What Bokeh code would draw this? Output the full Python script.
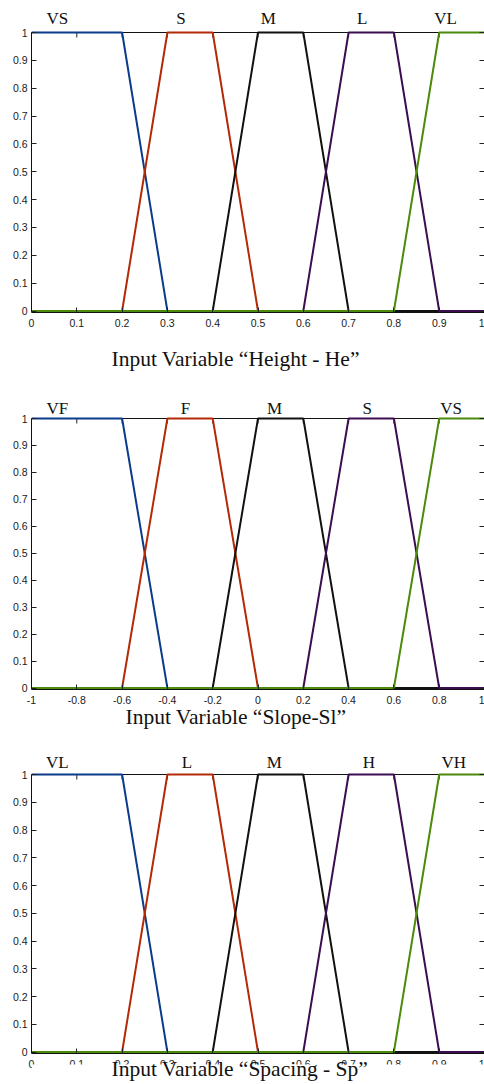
from bokeh.plotting import figure
from bokeh.models import LinearAxis, FixedTicker, CustomJSTickFormatter, Range1d, Span
from bokeh.core.properties import value
from bokeh.layouts import column
from bokeh.embed import file_html
from bokeh.resources import INLINE

# ---------------- data ----------------
COLORS = ["#0b3b8c", "#b42a06", "#111111", "#3c0d50", "#4b8a0a"]

HE_TERMS = ["VS", "S", "M", "L", "VL"]
HE_PARAMS = [[0.0, 0.0, 0.2, 0.3], [0.2, 0.3, 0.4, 0.5], [0.4, 0.5, 0.6, 0.7],
             [0.6, 0.7, 0.8, 0.9], [0.8, 0.9, 1.0, 1.0]]
HE_DOMAIN = [0.0, 1.0]
HE_TICKS = [0, 0.1, 0.2, 0.3, 0.4, 0.5, 0.6, 0.7, 0.8, 0.9, 1]
HE_LABEL_X = [0.057, 0.33, 0.523, 0.73, 0.914]
HE_TITLE = "Input Variable \u201cHeight - He\u201d"

SL_TERMS = ["VF", "F", "M", "S", "VS"]
SL_PARAMS = [[-1.0, -1.0, -0.6, -0.4], [-0.6, -0.4, -0.2, 0.0], [-0.2, 0.0, 0.2, 0.4],
             [0.2, 0.4, 0.6, 0.8], [0.6, 0.8, 1.0, 1.0]]
SL_DOMAIN = [-1.0, 1.0]
SL_TICKS = [-1, -0.8, -0.6, -0.4, -0.2, 0, 0.2, 0.4, 0.6, 0.8, 1]
SL_LABEL_X = [-0.886, -0.32, 0.073, 0.482, 0.853]
SL_TITLE = "Input Variable \u201cSlope-Sl\u201d"

SP_TERMS = ["VL", "L", "M", "H", "VH"]
SP_PARAMS = [[0.0, 0.0, 0.2, 0.3], [0.2, 0.3, 0.4, 0.5], [0.4, 0.5, 0.6, 0.7],
             [0.6, 0.7, 0.8, 0.9], [0.8, 0.9, 1.0, 1.0]]
SP_DOMAIN = [0.0, 1.0]
SP_TICKS = [0, 0.1, 0.2, 0.3, 0.4, 0.5, 0.6, 0.7, 0.8, 0.9, 1]
SP_LABEL_X = [0.057, 0.343, 0.536, 0.745, 0.932]
SP_TITLE = "Input Variable \u201cSpacing - Sp\u201d"

Y_TICKS = [0, 0.1, 0.2, 0.3, 0.4, 0.5, 0.6, 0.7, 0.8, 0.9, 1]

SERIF = "Liberation Serif"
SANS = "Liberation Sans"
W = 484
LEFT = 31


def trapmf(x, a, b, c, d):
    if b <= x <= c:
        return 1.0
    if a < x < b:
        return (x - a) / (b - a)
    if c < x < d:
        return (d - x) / (d - c)
    return 0.0


def main_panel(terms, params, domain, ticks, label_x, label_dy, top_px, unit_px):
    lo, hi = domain
    pad_px = 1.5
    bottom_border = 24
    height = int(round(top_px + unit_px + pad_px + bottom_border))
    p = figure(width=W, height=height, x_range=Range1d(lo, hi),
               y_range=Range1d(-pad_px / unit_px, 1 + top_px / unit_px),
               output_backend="svg", toolbar_location=None,
               x_axis_type=None, y_axis_type=None,
               min_border_left=LEFT, min_border_right=0,
               min_border_top=0, min_border_bottom=bottom_border)
    p.outline_line_color = None
    p.background_fill_color = "white"
    p.border_fill_color = "white"

    fmt = CustomJSTickFormatter(code="return String(Math.round(tick*10)/10);")
    blank = CustomJSTickFormatter(code="return '';")

    def style(ax):
        ax.major_tick_in = 5
        ax.major_tick_out = 0
        ax.minor_tick_line_color = None
        ax.axis_line_color = "#111111"
        ax.major_tick_line_color = "#222222"
        ax.major_label_text_font = SANS
        ax.major_label_text_color = "#1a1a1a"
        ax.major_label_text_font_size = "10.5px"

    xb = LinearAxis(ticker=FixedTicker(ticks=ticks), formatter=fmt)
    style(xb)
    xb.major_label_standoff = 6
    p.add_layout(xb, "below")
    yl = LinearAxis(ticker=FixedTicker(ticks=Y_TICKS), formatter=fmt, bounds=(0, 1))
    style(yl)
    yl.major_label_standoff = 4
    p.add_layout(yl, "left")
    yr = LinearAxis(ticker=FixedTicker(ticks=Y_TICKS), formatter=blank, bounds=(0, 1))
    style(yr)
    yr.major_label_standoff = 0
    p.add_layout(yr, "right")

    # top edge of the box at y = 1, with inward ticks
    p.add_layout(Span(location=1, dimension="width", line_color="#111111",
                      line_width=1, level="underlay"))
    tick_len = 5 / unit_px
    p.segment(x0=ticks, y0=[1] * len(ticks), x1=ticks, y1=[1 - tick_len] * len(ticks),
              line_color="#222222", line_width=1)

    for prm, col in zip(params, COLORS):
        xs = sorted(set([lo, hi] + list(prm)))
        ys = [trapmf(x, *prm) for x in xs]
        p.line(xs, ys, line_color=col, line_width=2)

    p.text(x=label_x, y=[1 + label_dy / unit_px] * len(terms), text=terms,
           text_font=value(SERIF), text_font_size="17px", text_align="center",
           text_baseline="alphabetic", text_color="#111111")
    return p


def title_panel(title, x_left, baseline, height, margin_top, mask_top=None):
    # frame spans page x LEFT..W, so data x equals page x
    t = figure(width=W, height=height, x_range=Range1d(LEFT, W), y_range=Range1d(height, 0),
               output_backend="svg", toolbar_location=None,
               x_axis_type=None, y_axis_type=None, min_border=0,
               min_border_left=LEFT, min_border_right=0,
               min_border_top=0, min_border_bottom=0)
    t.outline_line_color = None
    t.background_fill_color = None
    t.border_fill_color = None
    if mask_top is not None:
        t.quad(left=[LEFT], right=[W], top=[mask_top], bottom=[height],
               fill_color="white", line_color=None)
    t.text(x=[x_left], y=[baseline], text=[title], text_font=value(SERIF),
           text_font_size="21.5px", text_align="left", text_baseline="alphabetic",
           text_color="#111111")
    t.margin = (margin_top, 0, 0, 0)
    return t


p1 = main_panel(HE_TERMS, HE_PARAMS, HE_DOMAIN, HE_TICKS, HE_LABEL_X, 14, 32, 278.5)
t1 = title_panel(HE_TITLE, 111, 22, 36, 0)
p2 = main_panel(SL_TERMS, SL_PARAMS, SL_DOMAIN, SL_TICKS, SL_LABEL_X, 10, 46, 269.5)
t2 = title_panel(SL_TITLE, 125, 16, 33, -13)
p3 = main_panel(SP_TERMS, SP_PARAMS, SP_DOMAIN, SP_TICKS, SP_LABEL_X, 12, 41, 277.5)
t3 = title_panel(SP_TITLE, 111, 12, 28, -21, mask_top=8)

layout = column(p1, t1, p2, t2, p3, t3)
open("out.html", "w").write(file_html(layout, INLINE))
